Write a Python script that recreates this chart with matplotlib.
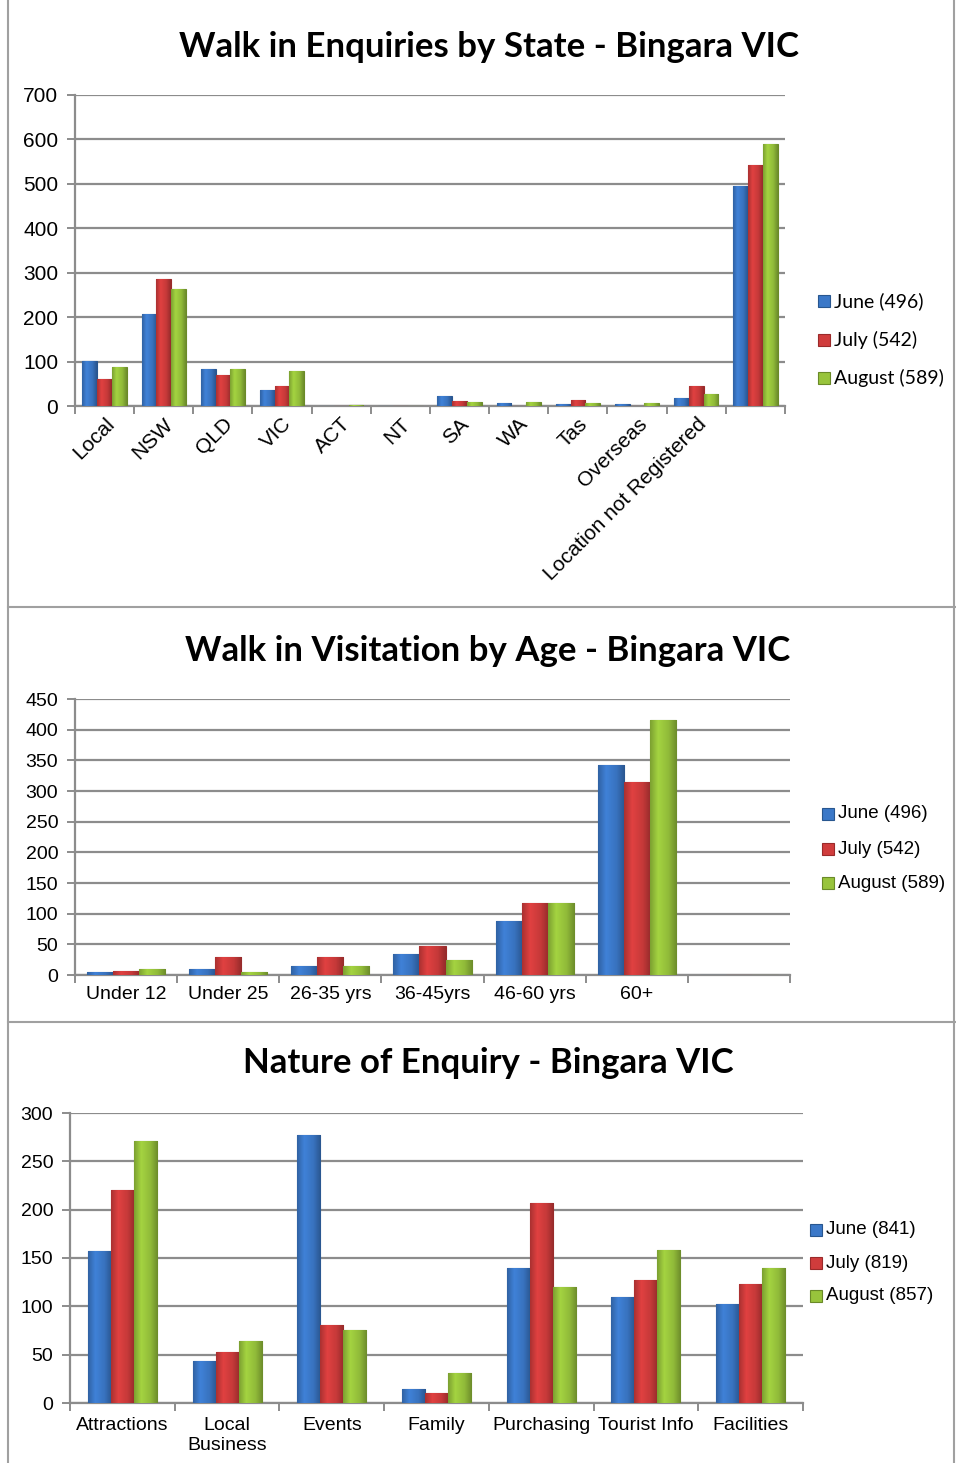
import numpy as np
import matplotlib
matplotlib.use("Agg")
import matplotlib.pyplot as plt
from matplotlib.lines import Line2D
from matplotlib.patches import Rectangle
from matplotlib.colors import to_rgb

W, H = 956, 1463

# panel 1 - enquiries by state
state_cats = ['Local', 'NSW', 'QLD', 'VIC', 'ACT', 'NT', 'SA', 'WA', 'Tas', 'Overseas',
              'Location not Registered', '']
state_june = [101, 207, 83, 35, 0, 0, 23, 7, 5, 4, 19, 496]
state_july = [60, 285, 69, 44, 0, 0, 12, 0, 14, 0, 44, 542]
state_aug = [87, 264, 83, 78, 2, 0, 9, 9, 7, 7, 26, 589]
state_legend = ['June (496)', 'July (542)', 'August (589)']

# panel 2 - visitation by age
age_cats = ['Under 12', 'Under 25', '26-35 yrs', '36-45yrs', '46-60 yrs', '60+', '']
age_june = [5, 10, 15, 35, 88, 342, 0]
age_july = [7, 29, 29, 47, 117, 314, 0]
age_aug = [10, 5, 15, 25, 118, 415, 0]
age_legend = ['June (496)', 'July (542)', 'August (589)']

# panel 3 - nature of enquiry
nature_cats = ['Attractions', 'Local\nBusiness', 'Events', 'Family', 'Purchasing',
               'Tourist Info', 'Facilities']
nature_june = [157, 43, 277, 14, 140, 110, 102]
nature_july = [220, 53, 81, 10, 207, 127, 123]
nature_aug = [271, 64, 76, 31, 120, 158, 140]
nature_legend = ['June (841)', 'July (819)', 'August (857)']

colors = ['#3b78c8', '#d03c3c', '#98c43c']
edges = ['#28568f', '#9a2a2a', '#6a8a28']
grid_col = '#8c8c8c'

# horizontal shading across a bar (darker edges, lighter left-centre)
shade = np.interp(np.linspace(0, 1, 40), [0, 0.3, 0.7, 1], [0.82, 1.08, 0.95, 0.72])


def rect(l, t, r, b):
    return [l / W, 1 - b / H, (r - l) / W, (b - t) / H]


def draw_panel(fig, box, cats, series, ymax, ystep, barw, labelsize, rot=False, xpad=8):
    ax = fig.add_axes(rect(*box))
    n = len(cats)
    x = np.arange(n)
    for i, vals in enumerate(series):
        bars = ax.bar(x + (i - 1) * barw, vals, width=barw, color=colors[i],
                      edgecolor=edges[i], linewidth=0.8, zorder=3)
        base = np.array(to_rgb(colors[i]))
        img = np.clip(shade[None, :, None] * base[None, None, :], 0, 1)
        for b in bars:
            if b.get_height() <= 0:
                continue
            x0, w, h = b.get_x(), b.get_width(), b.get_height()
            im = ax.imshow(img, extent=(x0, x0 + w, 0, h), aspect='auto', zorder=3.5,
                           interpolation='bilinear')
            im.set_clip_path(b)
    ax.set_xlim(-0.5, n - 0.5)
    ax.set_ylim(0, ymax)
    ax.set_yticks(np.arange(0, ymax + 1, ystep))
    ax.yaxis.grid(True, color=grid_col, linewidth=1.6, zorder=0)
    ax.set_axisbelow(True)
    for s in ['top', 'right']:
        ax.spines[s].set_visible(False)
    for s in ['left', 'bottom']:
        ax.spines[s].set_color(grid_col)
        ax.spines[s].set_linewidth(1.6)
    ax.set_xticks(x)
    ax.set_xticks(np.arange(-0.5, n, 1), minor=True)
    ax.tick_params(axis='x', which='major', length=0, pad=xpad)
    ax.tick_params(axis='x', which='minor', length=6, width=1.4, color=grid_col)
    ax.tick_params(axis='y', length=6, width=1.4, color=grid_col, pad=6)
    if rot:
        ax.set_xticklabels(cats, rotation=45, ha='right', rotation_mode='anchor',
                           fontsize=labelsize, family='Liberation Sans')
    else:
        ax.set_xticklabels(cats, fontsize=labelsize, family='Liberation Sans',
                           linespacing=1.25)
    for lab in ax.get_yticklabels():
        lab.set_fontsize(labelsize)
        lab.set_family('Liberation Sans')
    return ax


def add_legend(fig, labels, x, ys, size, family):
    for i, lab in enumerate(labels):
        fig.patches.append(Rectangle((x / W, 1 - (ys[i] + 6) / H), 12 / W, 12 / H,
                                     transform=fig.transFigure, facecolor=colors[i],
                                     edgecolor=edges[i], linewidth=0.8))
        fig.text((x + 16) / W, 1 - ys[i] / H, lab, fontsize=size, family=family,
                 va='center', ha='left')


fig = plt.figure(figsize=(W / 100, H / 100), dpi=100)

# frame and separators
for y in [607, 1022]:
    fig.add_artist(Line2D([8 / W, 1], [1 - y / H, 1 - y / H], color='#a0a0a0', linewidth=1.5))
fig.add_artist(Line2D([8 / W, 8 / W], [0, 1], color='#a0a0a0', linewidth=1.5))
fig.add_artist(Line2D([954 / W, 954 / W], [0, 1], color='#a0a0a0', linewidth=1.5))

title_font = 'Lato'

draw_panel(fig, (75, 95, 785, 406), state_cats, [state_june, state_july, state_aug],
           700, 100, 0.25, 15, rot=True, xpad=6)
fig.text(489 / W, 1 - 47 / H, 'Walk in Enquiries by State - Bingara VIC', fontsize=25,
         fontweight='bold', family=title_font, ha='center', va='center')
add_legend(fig, state_legend, 818, [301, 340, 378], 14, 'Lato')

draw_panel(fig, (75, 699, 790, 975), age_cats, [age_june, age_july, age_aug],
           450, 50, 0.255, 14)
fig.text(488 / W, 1 - 651 / H, 'Walk in Visitation by Age - Bingara VIC', fontsize=25,
         fontweight='bold', family=title_font, ha='center', va='center')
add_legend(fig, age_legend, 822, [814, 849, 883], 13.5, 'Liberation Sans')

draw_panel(fig, (70, 1113, 803, 1403), nature_cats, [nature_june, nature_july, nature_aug],
           300, 50, 0.22, 14, xpad=10)
fig.text(488 / W, 1 - 1063 / H, 'Nature of Enquiry - Bingara VIC', fontsize=25,
         fontweight='bold', family=title_font, ha='center', va='center')
add_legend(fig, nature_legend, 810, [1230, 1263, 1296], 13.5, 'Liberation Sans')

fig.savefig('out.png', dpi=100, facecolor='white')
